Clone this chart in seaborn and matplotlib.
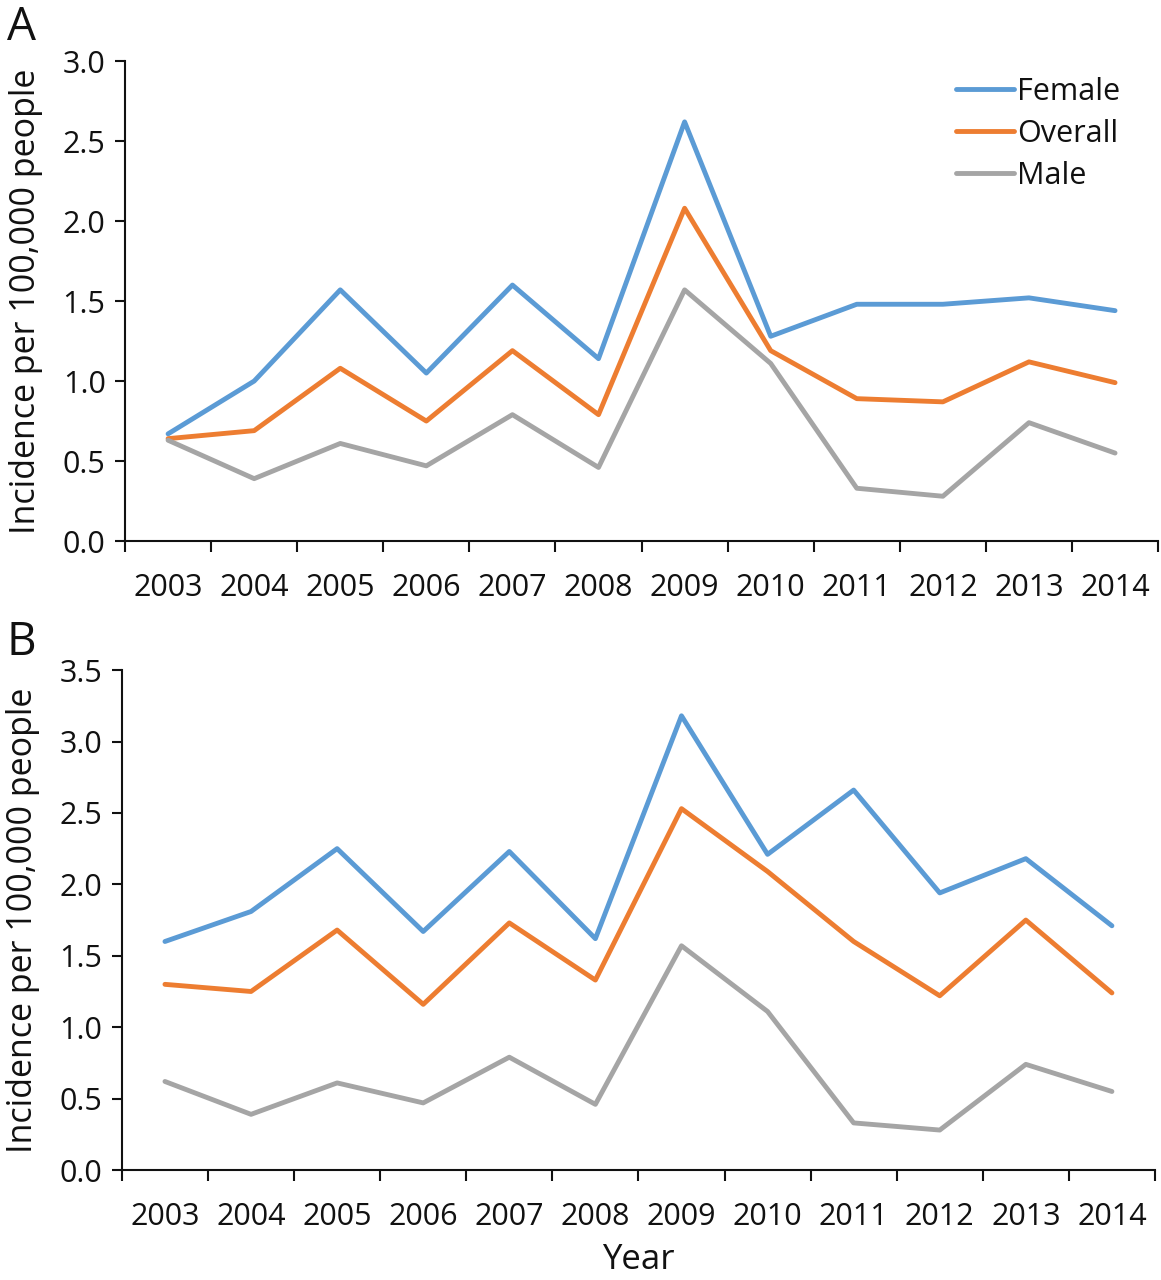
import matplotlib
matplotlib.use("Agg")
import matplotlib.pyplot as plt
import seaborn as sns
import pandas as pd
import numpy as np

years = ["2003", "2004", "2005", "2006", "2007", "2008",
         "2009", "2010", "2011", "2012", "2013", "2014"]

# Panel A
female_a = [0.67, 1.00, 1.57, 1.05, 1.60, 1.14, 2.62, 1.28, 1.48, 1.48, 1.52, 1.44]
overall_a = [0.64, 0.69, 1.08, 0.75, 1.19, 0.79, 2.08, 1.19, 0.89, 0.87, 1.12, 0.99]
male_a = [0.63, 0.39, 0.61, 0.47, 0.79, 0.46, 1.57, 1.11, 0.33, 0.28, 0.74, 0.55]

# Panel B
female_b = [1.60, 1.81, 2.25, 1.67, 2.23, 1.62, 3.18, 2.21, 2.66, 1.94, 2.18, 1.71]
overall_b = [1.30, 1.25, 1.68, 1.16, 1.73, 1.33, 2.53, 2.09, 1.60, 1.22, 1.75, 1.24]
male_b = [0.62, 0.39, 0.61, 0.47, 0.79, 0.46, 1.57, 1.11, 0.33, 0.28, 0.74, 0.55]

series_names = ["Female", "Overall", "Male"]
colors = {"Female": "#5B9BD5", "Overall": "#ED7D31", "Male": "#A5A5A5"}

sns.set_style("ticks")
plt.rcParams["font.family"] = ["Open Sans", "DejaVu Sans"]
ink = "#111111"
plt.rcParams.update({"text.color": ink, "axes.labelcolor": ink,
                     "xtick.color": ink, "ytick.color": ink,
                     "axes.edgecolor": ink})


def make_df(female, overall, male):
    rows = []
    for name, vals in zip(series_names, [female, overall, male]):
        for i, v in enumerate(vals):
            rows.append({"pos": i, "value": v, "series": name})
    return pd.DataFrame(rows)


fig = plt.figure(figsize=(11.61, 12.8), dpi=100)
ax_a = fig.add_axes([0.1077, 0.5773, 0.8898, 0.375])
ax_b = fig.add_axes([0.1050, 0.0859, 0.8898, 0.3906])

panels = [
    (ax_a, make_df(female_a, overall_a, male_a), 3.0, True),
    (ax_b, make_df(female_b, overall_b, male_b), 3.5, False),
]

for ax, df, ymax, show_legend in panels:
    sns.lineplot(data=df, x="pos", y="value", hue="series",
                 hue_order=series_names, palette=colors,
                 linewidth=3.5, ax=ax, legend=show_legend)
    ax.set_xlim(-0.5, len(years) - 0.5)
    ax.set_ylim(0, ymax)
    yt = np.arange(0, ymax + 0.01, 0.5)
    ax.set_yticks(yt)
    ax.set_yticklabels([f"{v:.1f}" for v in yt])
    ax.set_xticks(np.arange(-0.5, len(years), 1.0))
    ax.set_xticklabels([])
    ax.set_xticks(np.arange(len(years)), minor=True)
    ax.set_xticklabels(years, minor=True)
    ax.tick_params(axis="x", which="minor", length=0, pad=23, labelsize=22)
    ax.tick_params(axis="x", which="major", length=8, width=1.5, direction="out")
    ax.tick_params(axis="y", length=7, width=1.5, labelsize=22, pad=7)
    for side in ["top", "right"]:
        ax.spines[side].set_visible(False)
    for side in ["left", "bottom"]:
        ax.spines[side].set_linewidth(1.5)
    ax.set_ylabel("Incidence per 100,000 people", fontsize=24.5, labelpad=14)
    ax.set_xlabel("")
    if show_legend:
        leg = ax.legend(loc="upper right", bbox_to_anchor=(0.99, 1.025),
                        frameon=False, fontsize=22, handlelength=1.9,
                        handletextpad=0.1, labelspacing=0.4)
        for line in leg.get_lines():
            line.set_linewidth(3.5)

ax_b.set_xlabel("Year", fontsize=25, labelpad=8)

fig.text(0.006, 0.996, "A", fontsize=33, va="top", ha="left")
fig.text(0.006, 0.516, "B", fontsize=33, va="top", ha="left")

fig.savefig("out.png", dpi=100)
